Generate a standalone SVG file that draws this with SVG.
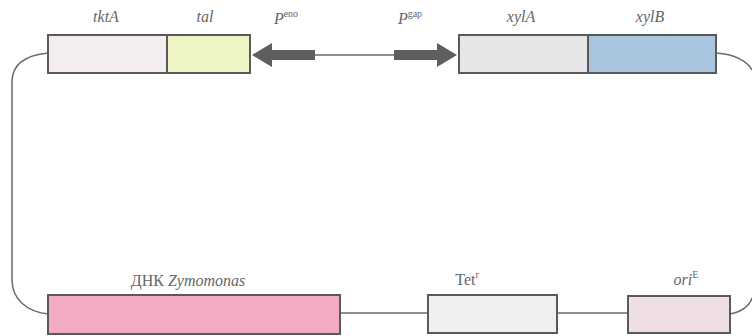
<svg xmlns="http://www.w3.org/2000/svg" width="752" height="336" viewBox="0 0 752 336">
<style>
.box{stroke:#5a5a5a;stroke-width:2}
.ln{fill:none;stroke:#6a6a6a;stroke-width:1.5}
.lb{font-family:'Liberation Serif','Times New Roman','DejaVu Serif',serif;font-size:16px;fill:#666666;text-anchor:middle}
.it{font-style:italic}
.sup{font-size:10px}
.arr{fill:#5e5e5e}
</style>
<rect width="752" height="336" fill="#ffffff"/>
<g id="connectors">
<path class="ln" d="M48,53 C28,55 12,62 12,82 L12,280 C12,300 28,312 48,314"/>
<line class="ln" x1="315" y1="55" x2="395" y2="55"/>
<path class="ln" d="M716,53 C735,54 748,62 752,70"/>
<path class="ln" d="M730,314 C742,312 750,305 752,298"/>
<line class="ln" x1="340" y1="313" x2="428" y2="313"/>
<line class="ln" x1="557" y1="313" x2="628" y2="313"/>
</g>
<g id="tktA"><rect class="box" x="48" y="35" width="119" height="38" fill="#f4edf0"/><text class="lb it" x="106" y="22">tktA</text></g>
<g id="tal"><rect class="box" x="167" y="35" width="83" height="38" fill="#eff4c4"/><text class="lb it" x="205" y="22">tal</text></g>
<g id="Peno"><path class="arr" d="M252,55 L272,43 L272,50 L315,50 L315,60 L272,60 L272,67 Z"/><text class="lb" x="286" y="24"><tspan class="it">P</tspan><tspan class="sup" dy="-7">eno</tspan></text></g>
<g id="Pgap"><path class="arr" d="M457,55 L437,43 L437,50 L394,50 L394,60 L437,60 L437,67 Z"/><text class="lb" x="410" y="24"><tspan class="it">P</tspan><tspan class="sup" dy="-7">gap</tspan></text></g>
<g id="xylA"><rect class="box" x="459" y="35" width="129" height="38" fill="#e6e6e8"/><text class="lb it" x="521" y="22">xylA</text></g>
<g id="xylB"><rect class="box" x="588" y="35" width="128" height="38" fill="#a9c5df"/><text class="lb it" x="650" y="22">xylB</text></g>
<g id="dna"><rect class="box" x="48" y="295" width="292" height="39" fill="#f3abc5"/><text class="lb" x="188" y="286">ДНК <tspan class="it">Zymomonas</tspan></text></g>
<g id="tet"><rect class="box" x="428" y="295" width="129" height="38" fill="#efefef"/><text class="lb" x="467" y="285">Tet<tspan class="sup" dy="-7">r</tspan></text></g>
<g id="ori"><rect class="box" x="628" y="296" width="102" height="37" fill="#efdfe3"/><text class="lb" x="686" y="285"><tspan class="it">ori</tspan><tspan class="sup" dy="-7">E</tspan></text></g>
</svg>
